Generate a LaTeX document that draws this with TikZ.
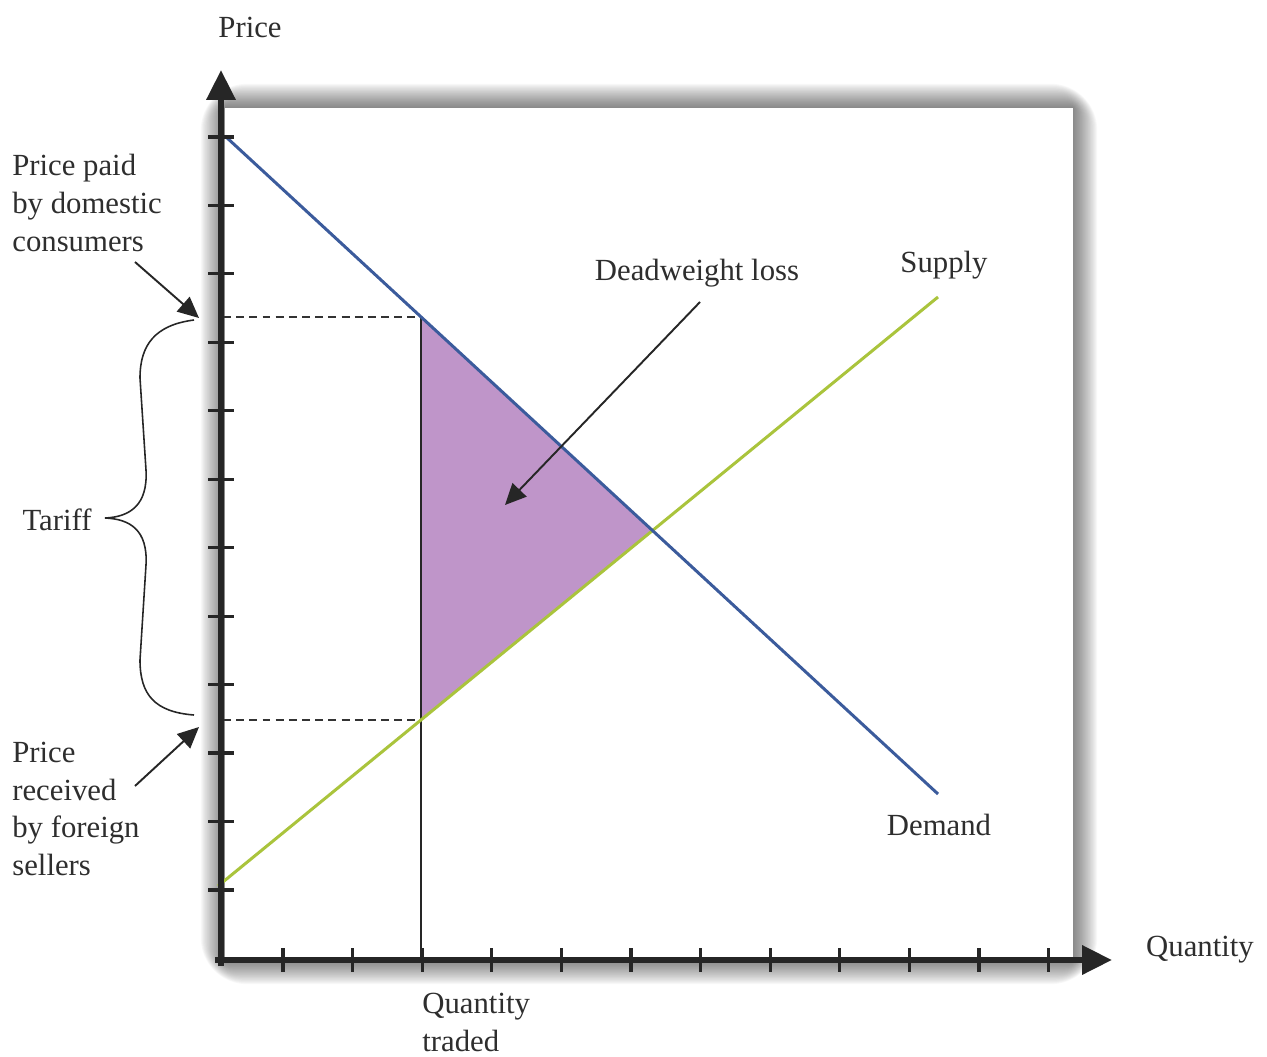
\documentclass[tikz,border=0pt]{standalone}
\usepackage{fontspec}
\setmainfont{Liberation Serif}
\usetikzlibrary{arrows.meta}
\definecolor{demandc}{HTML}{3B5B9C}
\definecolor{supplyc}{HTML}{AAC43C}
\definecolor{dwlc}{HTML}{BF95C9}
\definecolor{txtc}{HTML}{2E2E2E}
\begin{document}
\begin{tikzpicture}[x=0.02cm,y=-0.02cm,
  lbl/.style={text=txtc,font=\fontsize{17.5}{21.5}\selectfont,inner sep=0pt},
  axis/.style={line width=3.4pt,black!85,-{Triangle[length=17pt,width=16pt]}},
  tick/.style={line width=1.8pt,black!85},
  pointer/.style={line width=1.1pt,black!85,-{Triangle[length=12pt,width=11pt]}},
  guide/.style={line width=0.7pt,black!80,dash pattern=on 4.5pt off 3pt},
  curve/.style={line width=1.7pt}]
\useasboundingbox (0,0) rectangle (1267,1057);
% shadowed plot area (soft blur)
\foreach \i in {1,...,22}{
  \fill[black,opacity=0.028,rounded corners={1.2*\i}] ({225-1.1*\i},{108-1.1*\i}) rectangle ({1073+1.1*\i},{960+1.1*\i});
}
\fill[white] (225,108) rectangle (1073,960);
% key points
\coordinate (O) at (221,960);
\coordinate (yend) at (221,70);
\coordinate (xend) at (1112,960);
\coordinate (dA) at (225,136);
\coordinate (dB) at (938,794);
\coordinate (sA) at (218,886);
\coordinate (sB) at (938,297);
\coordinate (Pd) at (421,317);
\coordinate (Ps) at (421,720);
\coordinate (E) at (652.5,530.5);
\coordinate (Qt) at (421,960);
\coordinate (yPd) at (223,317);
\coordinate (yPs) at (223,720);
% deadweight loss triangle
\fill[dwlc] (Pd) -- (E) -- (Ps) -- cycle;
% guides
\draw[guide] (yPd) -- (Pd);
\draw[guide] (yPs) -- (Ps);
\draw[line width=0.8pt,black!85] (Qt) -- (Pd);
% curves
\draw[curve,supplyc] (sA) -- (sB);
\draw[curve,demandc] (dA) -- (dB);
% axes
\draw[axis] (221,966) -- (yend);
\draw[axis] (215,960) -- (xend);
\foreach \k in {0,...,11}{
  \draw[tick] (208,{137+68.45*\k}) -- (234,{137+68.45*\k});
  \draw[tick] ({283+69.6*\k},948) -- ({283+69.6*\k},972);
}
% labels
\node[lbl] (price) at (250,27) {Price};
\node[lbl] (qty) at (1200,950) {Quantity};
\node[lbl,anchor=north west,align=left] (qtr) at (422,993) {Quantity\\traded};
\node[lbl] (supply) at (944,265) {Supply};
\node[lbl] (demand) at (939,825) {Demand};
\node[lbl] (dwl) at (697,273) {Deadweight loss};
\node[lbl,anchor=west,align=left] (paid) at (12,203) {Price paid\\by domestic\\consumers};
\node[lbl,anchor=west,align=left] (recv) at (12,809) {Price\\received\\by foreign\\sellers};
\node[lbl] (tariff) at (57,520) {Tariff};
% pointers
\coordinate (dwlS) at (700,302);
\coordinate (dwlT) at (505,505);
\draw[pointer] (dwlS) -- (dwlT);
\coordinate (paidS) at (135,262);
\coordinate (paidT) at (199,318);
\draw[pointer] (paidS) -- (paidT);
\coordinate (recvS) at (135,786);
\coordinate (recvT) at (199,727);
\draw[pointer] (recvS) -- (recvT);
% brace
\coordinate (bTop) at (194,320);
\coordinate (bTip) at (105,518);
\coordinate (bBot) at (194,715);
\draw[line width=0.9pt,black!85] (bTop) .. controls (155,325) and (140,345) .. (140,378)
  -- (146,470) .. controls (148,505) and (130,517) .. (bTip)
  .. controls (130,519) and (148,530) .. (146,565)
  -- (140,660) .. controls (140,695) and (155,712) .. (bBot);
\end{tikzpicture}
\end{document}
